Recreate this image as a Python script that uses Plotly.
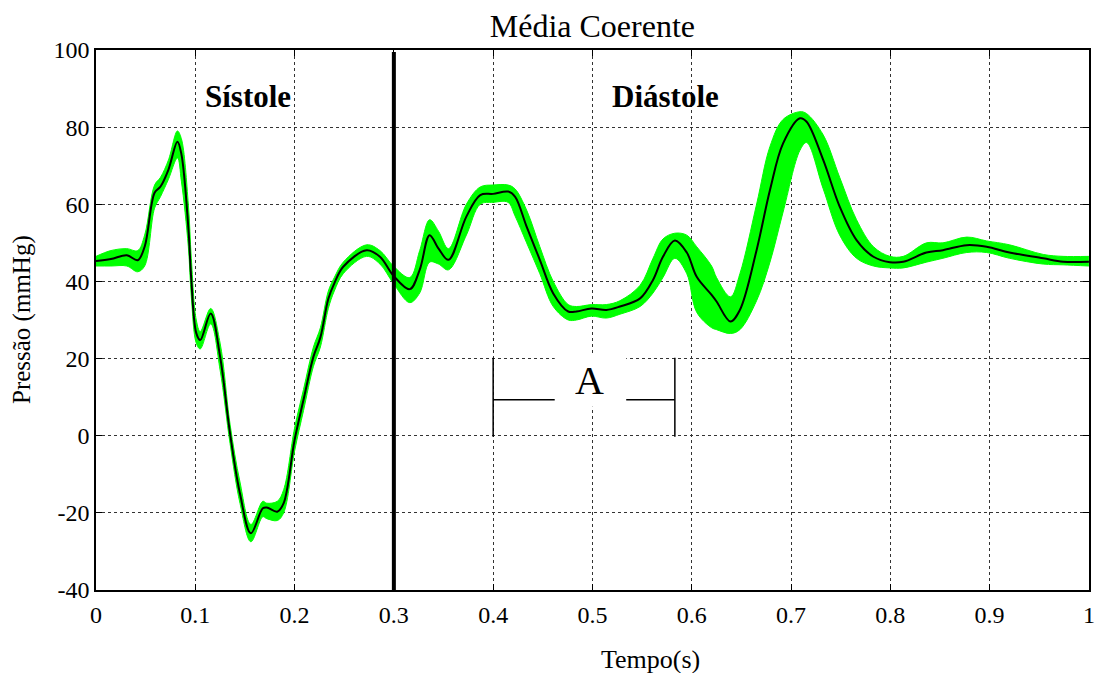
import plotly.graph_objects as go

# --- data -------------------------------------------------------------------
t = [0.000, 0.015, 0.031, 0.042, 0.049, 0.059, 0.065, 0.073, 0.082, 0.086,
     0.093, 0.096, 0.101, 0.105, 0.1155, 0.125, 0.135, 0.145, 0.156, 0.168,
     0.172, 0.1826, 0.189, 0.200, 0.209, 0.219, 0.226, 0.234, 0.240, 0.249,
     0.2726, 0.286, 0.2995, 0.316, 0.326, 0.336, 0.345, 0.355, 0.373, 0.387,
     0.400, 0.415, 0.422, 0.4337, 0.447, 0.4605, 0.4756, 0.484, 0.499, 0.514,
     0.5277, 0.548, 0.561, 0.571, 0.583, 0.595, 0.605, 0.620, 0.625, 0.639,
     0.6485, 0.6653, 0.6788, 0.692, 0.709, 0.7157, 0.7324, 0.749, 0.766, 0.783,
     0.7996, 0.813, 0.8364, 0.853, 0.877, 0.897, 0.920, 0.954, 0.974, 1.000]

media = [45.3, 45.8, 46.8, 45.5, 49.0, 63.0, 64.6, 69.0, 76.2, 73.0,
         54.0, 40.4, 26.6, 24.8, 31.7, 20.5, 0.6, -15.0, -25.3, -18.8,
         -18.6, -19.7, -17.5, -1.1, 9.3, 20.5, 25.5, 35.5, 39.5, 43.8,
         48.1, 46.4, 41.5, 38.0, 43.0, 52.0, 48.5, 45.6, 56.8, 62.4,
         62.7, 63.3, 62.0, 54.2, 45.6, 36.9, 32.2, 32.2, 33.0, 32.6,
         33.5, 35.6, 40.4, 46.4, 50.6, 47.5, 41.2, 36.5, 34.8, 29.6,
         32.6, 48.1, 63.7, 75.8, 82.3, 81.4, 71.5, 59.4, 50.7, 46.4,
         45.0, 45.1, 47.5, 48.1, 49.4, 49.0, 47.5, 46.0, 45.1, 45.1]

# envelope of the individual (green) cycles
superior = [46.5, 48.0, 48.5, 48.0, 52.0, 65.0, 67.0, 71.5, 79.0, 77.0,
            60.0, 46.0, 30.0, 27.0, 33.0, 24.0, 3.0, -12.0, -23.0, -17.0,
            -17.5, -17.0, -14.0, 2.0, 12.0, 23.0, 28.0, 37.5, 41.0, 45.0,
            49.5, 48.0, 44.0, 41.0, 48.0, 56.0, 53.0, 48.5, 60.0, 64.5,
            65.0, 65.0, 64.0, 58.5, 49.0, 40.0, 34.0, 33.5, 34.0, 34.0,
            35.0, 39.0, 46.0, 51.0, 52.5, 52.0, 49.0, 44.0, 41.0, 36.0,
            42.0, 60.0, 75.0, 82.0, 84.0, 83.5, 78.0, 67.0, 56.0, 49.0,
            46.5, 46.5, 50.0, 50.0, 51.5, 50.5, 49.5, 47.0, 46.5, 46.5]

inferior = [44.0, 44.0, 44.0, 42.5, 44.0, 59.0, 62.0, 66.5, 72.0, 66.0,
            49.0, 36.0, 24.0, 22.5, 29.0, 17.0, -2.0, -17.5, -27.5, -21.0,
            -21.5, -22.0, -20.0, -4.0, 6.5, 18.0, 23.0, 33.0, 37.5, 42.0,
            46.5, 44.5, 39.5, 34.5, 37.0, 45.0, 44.5, 43.0, 52.0, 60.0,
            60.5, 60.5, 57.0, 50.0, 42.0, 33.5, 30.0, 30.0, 31.0, 30.5,
            31.5, 33.5, 37.0, 41.0, 46.0, 42.0, 32.0, 28.0, 27.5, 26.5,
            27.5, 35.0, 45.0, 58.0, 74.0, 76.0, 64.0, 52.0, 46.0, 44.0,
            43.5, 43.5, 45.0, 46.0, 47.5, 47.5, 46.0, 44.5, 44.3, 44.0]

x_ticks = [0, 0.1, 0.2, 0.3, 0.4, 0.5, 0.6, 0.7, 0.8, 0.9, 1]
x_tick_labels = ["0", "0.1", "0.2", "0.3", "0.4", "0.5", "0.6", "0.7", "0.8", "0.9", "1"]
y_ticks = [-40, -20, 0, 20, 40, 60, 80, 100]
y_tick_labels = ["-40", "-20", "0", "20", "40", "60", "80", "100"]

t_divisao = 0.3            # systole / diastole separator
a_esq, a_dir = 0.4, 0.583  # bracket "A"
a_baixo, a_cima, a_meio = -0.3, 20.2, 9.3
a_gap_esq, a_gap_dir = 0.462, 0.534

FONT = "Liberation Serif"
GREEN = "rgb(0,255,0)"
SMOOTH = 1.0

fig = go.Figure()
fig.add_trace(go.Scatter(x=t, y=inferior, mode="lines",
                         line=dict(color=GREEN, width=1, shape="spline", smoothing=SMOOTH),
                         showlegend=False, hoverinfo="skip"))
fig.add_trace(go.Scatter(x=t, y=superior, mode="lines", fill="tonexty",
                         fillcolor=GREEN,
                         line=dict(color=GREEN, width=1, shape="spline", smoothing=SMOOTH),
                         showlegend=False, hoverinfo="skip"))
fig.add_trace(go.Scatter(x=t, y=media, mode="lines",
                         line=dict(color="black", width=2, shape="spline", smoothing=SMOOTH),
                         showlegend=False))

shapes = [
    dict(type="line", xref="x", yref="y", x0=t_divisao, x1=t_divisao, y0=-40, y1=99.5,
         line=dict(color="black", width=4)),
    dict(type="rect", xref="x", yref="y", x0=a_gap_esq, x1=a_gap_dir, y0=7.5, y1=20.8,
         fillcolor="white", line=dict(width=0), layer="above"),
    dict(type="line", xref="x", yref="y", x0=a_esq, x1=a_esq, y0=a_baixo, y1=a_cima,
         line=dict(color="black", width=1.5)),
    dict(type="line", xref="x", yref="y", x0=a_dir, x1=a_dir, y0=a_baixo, y1=a_cima,
         line=dict(color="black", width=1.5)),
    dict(type="line", xref="x", yref="y", x0=a_esq, x1=a_gap_esq, y0=a_meio, y1=a_meio,
         line=dict(color="black", width=1.5)),
    dict(type="line", xref="x", yref="y", x0=a_gap_dir, x1=a_dir, y0=a_meio, y1=a_meio,
         line=dict(color="black", width=1.5)),
]

annotations = [
    dict(text="<b>Sístole</b>", x=0.153, y=88, xref="x", yref="y", showarrow=False,
         xanchor="center", yanchor="middle",
         font=dict(family=FONT, size=31, color="black")),
    dict(text="<b>Diástole</b>", x=0.574, y=88, xref="x", yref="y", showarrow=False,
         xanchor="center", yanchor="middle",
         font=dict(family=FONT, size=31, color="black")),
    dict(text="A", x=0.4975, y=14.4, xref="x", yref="y", showarrow=False,
         xanchor="center", yanchor="middle",
         font=dict(family=FONT, size=40, color="black")),
    dict(text="Pressão (mmHg)", x=-0.0745, y=0.5, xref="paper", yref="paper",
         xanchor="center", yanchor="middle",
         textangle=-90, showarrow=False, font=dict(family=FONT, size=25, color="black")),
    dict(text="Tempo(s)", x=0.558, y=-0.1296, xref="paper", yref="paper",
         xanchor="center", yanchor="middle",
         showarrow=False, font=dict(family=FONT, size=26, color="black")),
]

axis_common = dict(showline=True, linecolor="black", linewidth=1.5, mirror="ticks",
                   ticks="inside", ticklen=6, tickcolor="black", automargin=False,
                   showgrid=True, gridcolor="#333333", gridwidth=1, griddash="3px,3px",
                   zeroline=False, ticklabeloverflow="allow",
                   tickfont=dict(family=FONT, size=24, color="black"))

fig.update_layout(
    width=1095, height=673,
    margin=dict(l=96, r=6, t=50, b=83, autoexpand=False),
    paper_bgcolor="white", plot_bgcolor="white",
    title=dict(text="Média Coerente", x=0.541, xanchor="center", y=0.962, yanchor="middle",
               font=dict(family=FONT, size=32, color="black")),
    xaxis=dict(range=[0, 1.0001], tickvals=x_ticks, ticktext=x_tick_labels,
               ticklabelstandoff=2, **axis_common),
    yaxis=dict(range=[-40, 100], tickvals=y_ticks, ticktext=y_tick_labels, **axis_common),
    shapes=shapes, annotations=annotations,
)

fig.write_html("out.html", config={"displayModeBar": False},
               post_script="document.body.style.margin='0';document.body.style.overflow='hidden';")
